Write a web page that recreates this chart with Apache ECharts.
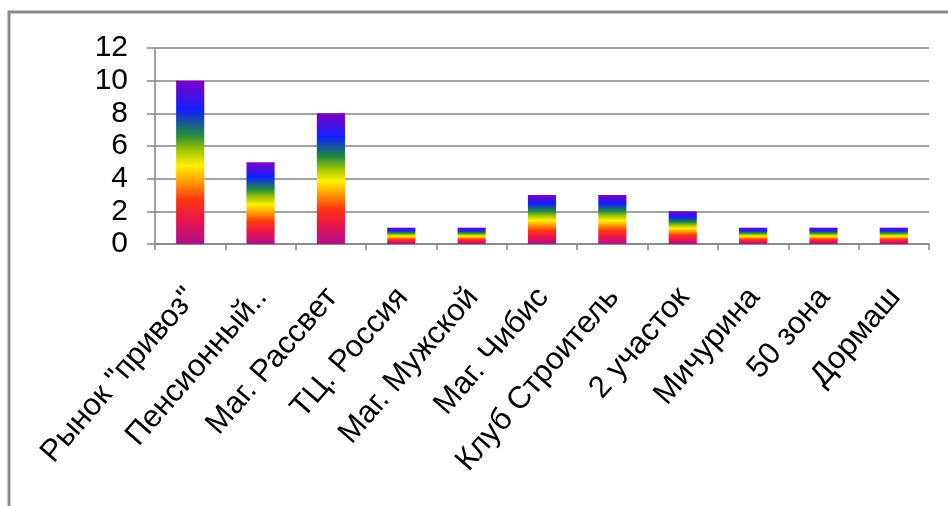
<!DOCTYPE html>
<html>
<head>
<meta charset="utf-8">
<script src="https://cdn.jsdelivr.net/npm/echarts@6/dist/echarts.min.js"></script>
<style>
  html, body { margin: 0; padding: 0; background: #fff; overflow: hidden; }
  #chart { width: 948px; height: 506px; }
</style>
</head>
<body>
<div id="chart"></div>
<script>
// Places and the counts for each
const categories = ['Рынок "привоз"', 'Пенсионный..', 'Маг. Рассвет', 'ТЦ. Россия', 'Маг. Мужской',
  'Маг. Чибис', 'Клуб Строитель', '2 участок', 'Мичурина', '50 зона', 'Дормаш'];
const counts = [10, 5, 8, 1, 1, 3, 3, 2, 1, 1, 1];
const yTicks = { min: 0, max: 12, interval: 2 };

// Rainbow fill running from the bottom of each bar to its top
const rainbow = new echarts.graphic.LinearGradient(0, 1, 0, 0, [
  { offset: 0.00, color: '#b0108f' },
  { offset: 0.14, color: '#e8124e' },
  { offset: 0.27, color: '#ff3510' },
  { offset: 0.38, color: '#ff9a00' },
  { offset: 0.48, color: '#fff000' },
  { offset: 0.57, color: '#a6c800' },
  { offset: 0.67, color: '#1f8a40' },
  { offset: 0.82, color: '#1020ff' },
  { offset: 1.00, color: '#8000c4' }
]);

const chart = echarts.init(document.getElementById('chart'), null, { renderer: 'canvas' });
chart.setOption({
  animation: false,
  backgroundColor: '#fff',
  // outer frame: only its top and left edges fall inside the page
  graphic: [{
    type: 'polyline',
    shape: { points: [[9, 520], [9, 12], [960, 12]] },
    style: { fill: 'none', stroke: '#8a8a8a', lineWidth: 3 },
    silent: true
  }],
  grid: { left: 155, right: 19, top: 48, bottom: 262, containLabel: false },
  xAxis: {
    type: 'category',
    data: categories,
    axisLine: { lineStyle: { color: '#858585', width: 1.5 } },
    axisTick: { show: true, alignWithLabel: false, length: 6, lineStyle: { color: '#858585', width: 1.5 } },
    axisLabel: {
      interval: 0,
      rotate: 49,
      align: 'right',
      verticalAlign: 'top',
      margin: 26,
      padding: [0, 16, 0, 0],
      fontFamily: 'Liberation Sans, Arial, sans-serif',
      fontSize: 31,
      color: '#000'
    }
  },
  yAxis: {
    type: 'value',
    min: yTicks.min,
    max: yTicks.max,
    interval: yTicks.interval,
    axisLine: { show: true, lineStyle: { color: '#858585', width: 1.5 } },
    axisTick: { show: true, length: 8, lineStyle: { color: '#858585', width: 1.5 } },
    splitLine: { show: true, lineStyle: { color: '#858585', width: 1.5 } },
    axisLabel: {
      margin: 27,
      fontFamily: 'Liberation Sans, Arial, sans-serif',
      fontSize: 30,
      color: '#000'
    }
  },
  series: [{
    type: 'bar',
    data: counts,
    barWidth: '40%',
    itemStyle: { color: rainbow }
  }]
});
</script>
</body>
</html>
